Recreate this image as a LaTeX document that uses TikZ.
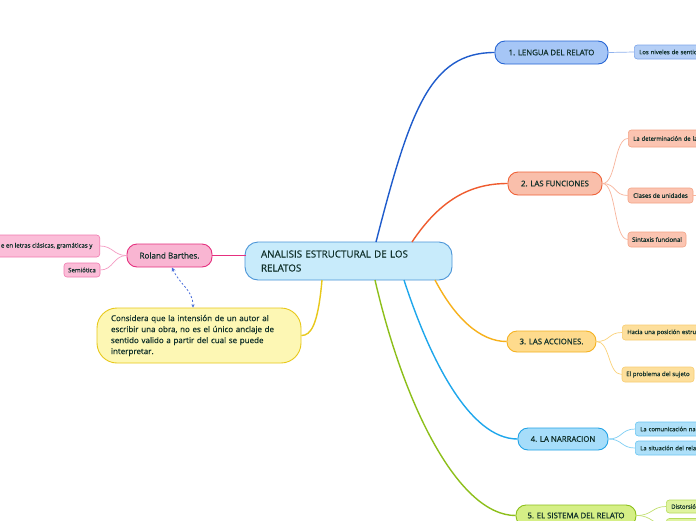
\documentclass[tikz,border=0pt]{standalone}
\usepackage{fontspec}
\setmainfont{Open Sans}[FakeBold=0.6]
\newfontfamily\semi{Open Sans}[FakeBold=0.6]
\usetikzlibrary{arrows.meta,calc}
\definecolor{ink}{HTML}{10302A}
\definecolor{cfill}{HTML}{C8EBFB}\definecolor{cdraw}{HTML}{4B95D8}
\definecolor{pfill}{HTML}{F9B5D2}\definecolor{pdraw}{HTML}{E5307F}
\definecolor{pcfill}{HTML}{FBBDD8}\definecolor{pcdraw}{HTML}{F07BB0}\definecolor{pcline}{HTML}{F59CC4}
\definecolor{yfill}{HTML}{FDF7B4}\definecolor{ydraw}{HTML}{E8C81A}
\definecolor{bfill}{HTML}{A6C6F6}\definecolor{bdraw}{HTML}{2665D4}\definecolor{bline}{HTML}{1F5CCC}
\definecolor{bcfill}{HTML}{B5CFF6}\definecolor{bcdraw}{HTML}{7EA6EA}\definecolor{bcline}{HTML}{8FB2EE}
\definecolor{ofill}{HTML}{F9BFAB}\definecolor{odraw}{HTML}{EF6238}\definecolor{oline}{HTML}{EF5B2E}
\definecolor{ocfill}{HTML}{FBC4B1}\definecolor{ocdraw}{HTML}{F3A386}\definecolor{ocline}{HTML}{F8B49C}
\definecolor{afill}{HTML}{FEDB8D}\definecolor{adraw}{HTML}{F5B221}\definecolor{aline}{HTML}{F7B11B}
\definecolor{acfill}{HTML}{FDDF9C}\definecolor{acdraw}{HTML}{F8CD72}\definecolor{acline}{HTML}{FBD27A}
\definecolor{nfill}{HTML}{A6DDFA}\definecolor{ndraw}{HTML}{22A3E6}\definecolor{nline}{HTML}{1EA7EC}
\definecolor{ncfill}{HTML}{AEE0F9}\definecolor{ncdraw}{HTML}{6CC6F2}\definecolor{ncline}{HTML}{7FCFF5}
\definecolor{gfill}{HTML}{D5EF86}\definecolor{gdraw}{HTML}{8CC01B}\definecolor{gline}{HTML}{8DBF1A}
\definecolor{gcfill}{HTML}{DFF3A0}\definecolor{gcdraw}{HTML}{B6DC5C}\definecolor{gcline}{HTML}{C2E070}
\definecolor{dashc}{HTML}{4A6FDC}
\tikzset{
  mybox/.style={draw, line width=0.9pt, rounded corners=10pt, inner sep=0pt, text=ink, align=center, font=\semi\fontsize{7.8}{9}\selectfont},
  leaf/.style={draw, line width=0.6pt, rounded corners=3pt, inner sep=0pt, text=ink, font=\semi\fontsize{5.9}{7}\selectfont, anchor=west, minimum width=90, text width=84, align=left},
  leafb/.style={draw, line width=0.6pt, rounded corners=3pt, inner sep=0pt, text=ink, font=\semi\fontsize{6.1}{7}\selectfont, align=center},
  branch/.style={line width=1.4pt},
  twig/.style={line width=0.7pt},
}
\begin{document}
\begin{tikzpicture}[x=1pt,y=-1pt]
\useasboundingbox (0,0) rectangle (696,520);
\fill[white] (0,0) rectangle (696,520);

% central
\node[mybox, fill=cfill, draw=cdraw, rounded corners=13pt, minimum width=207, minimum height=38, text width=175, align=left, font=\semi\fontsize{9.8}{14}\selectfont] (c) at (348.5,261) {ANALISIS ESTRUCTURAL DE LOS\\RELATOS};

% left
\node[mybox, fill=pfill, draw=pdraw, minimum width=85, minimum height=23, font=\semi\fontsize{8.1}{9}\selectfont] (rb) at (169.5,255.5) {Roland Barthes.};
\node[leafb, fill=pcfill, draw=pcdraw, minimum width=106, minimum height=22, anchor=east] (l1) at (100,246) {e en letras clásicas, gramáticas y};
\node[leafb, fill=pcfill, draw=pcdraw, minimum width=36, minimum height=14] (l2) at (82,270) {Semiótica};
\node[mybox, fill=yfill, draw=ydraw, rounded corners=20pt, minimum width=204, minimum height=55, text width=176, align=left, font=\semi\fontsize{8.0}{11}\selectfont] (y) at (199,335.5) {Considera que la intensión de un autor al\\escribir una obra, no es el único anclaje de\\sentido valido a partir del cual se puede\\interpretar.};

% right main topics
\node[mybox, fill=bfill, draw=bdraw, minimum width=113, minimum height=23] (t1) at (551.5,52.5) {1. LENGUA DEL RELATO};
\node[mybox, fill=ofill, draw=odraw, minimum width=94, minimum height=23] (t2) at (555,183.5) {2. LAS FUNCIONES};
\node[mybox, fill=afill, draw=adraw, minimum width=89, minimum height=21] (t3) at (551.5,341.5) {3. LAS ACCIONES.};
\node[mybox, fill=nfill, draw=ndraw, minimum width=90, minimum height=22] (t4) at (563,439) {4. LA NARRACION};
\node[mybox, fill=gfill, draw=gdraw, minimum width=120, minimum height=21] (t5) at (576,515.5) {5. EL SISTEMA DEL RELATO};

% leaves
\node[leaf, fill=bcfill, draw=bcdraw, minimum height=14] (a1) at (634,52) {\hspace*{2pt}Los niveles de sentid};
\node[leaf, fill=ocfill, draw=ocdraw, minimum height=17] (b1) at (628,138.5) {\hspace*{2pt}La determinación de la};
\node[leafb, fill=ocfill, draw=ocdraw, minimum width=65, minimum height=15] (b2) at (660.5,195.5) {Clases de unidades};
\node[leafb, fill=ocfill, draw=ocdraw, minimum width=58, minimum height=15] (b3) at (657,239.5) {Sintaxis funcional};
\node[leaf, fill=acfill, draw=acdraw, minimum height=15] (c1) at (622,332.5) {\hspace*{2pt}Hacia una posición estru};
\node[leafb, fill=acfill, draw=acdraw, minimum width=72, minimum height=15] (c2) at (658,374.5) {El problema del sujeto};
\node[leaf, fill=ncfill, draw=ncdraw, minimum height=14] (d1) at (635,429) {\hspace*{2pt}La comunicación nar};
\node[leaf, fill=ncfill, draw=ncdraw, minimum height=14] (d2) at (635,448) {\hspace*{2pt}La situación del rela};
\node[leaf, fill=gcfill, draw=gcdraw, minimum height=13] (e1) at (666,506.5) {\hspace*{2pt}Distorsió};
\node[leaf, fill=gcfill, draw=gcdraw, minimum height=13] (e2) at (666,525) {};
\coordinate (bx) at (712,195.5);

% main branches
\draw[branch, bline] (376,242) .. controls (410,110) and (430,52.5) .. (t1.west);
\draw[branch, oline] (412,242) .. controls (440,200) and (470,183.5) .. (t2.west);
\draw[branch, aline] (435,280) .. controls (455,318) and (480,341.5) .. (t3.west);
\draw[branch, nline] (404,280) .. controls (430,360) and (470,439) .. (t4.west);
\draw[branch, gline] (375,280) .. controls (405,410) and (460,515.5) .. (t5.west);
\draw[branch, ydraw] (322,280) .. controls (318,325) and (311,335.5) .. (y.east);
\draw[branch, pdraw] (rb.east) -- (246,255.5);
\draw[dashc, line width=0.8pt, dash pattern=on 2pt off 2pt, {Stealth[length=4pt,width=4pt]}-{Stealth[length=3pt,width=3pt]}] (172,267.5) .. controls (180,285) and (193,290) .. (193,307.5);

% twigs
\draw[twig, pcline] (rb.west) .. controls +(-13,0) and +(13,0) .. (l1.east);
\draw[twig, pcline] (rb.west) .. controls +(-13,0) and +(13,0) .. (l2.east);
\draw[twig, bcline] (t1.east) -- (a1.west);
\draw[twig, ocline] (t2.east) .. controls +(14,0) and +(-14,0) .. (b1.west);
\draw[twig, ocline] (t2.east) .. controls +(14,0) and +(-14,0) .. (b2.west);
\draw[twig, ocline] (t2.east) .. controls +(14,0) and +(-14,0) .. (b3.west);
\draw[twig, ocline] (b2.east) -- (bx);
\draw[twig, acline] (t3.east) .. controls +(14,0) and +(-14,0) .. (c1.west);
\draw[twig, acline] (t3.east) .. controls +(14,0) and +(-14,0) .. (c2.west);
\draw[twig, ncline] (t4.east) .. controls +(14,0) and +(-14,0) .. (d1.west);
\draw[twig, ncline] (t4.east) .. controls +(14,0) and +(-14,0) .. (d2.west);
\draw[twig, gcline] (t5.east) .. controls +(16,0) and +(-14,0) .. (e1.west);
\draw[twig, gcline] (t5.east) .. controls +(16,0) and +(-14,0) .. (e2.west);
\end{tikzpicture}
\end{document}
